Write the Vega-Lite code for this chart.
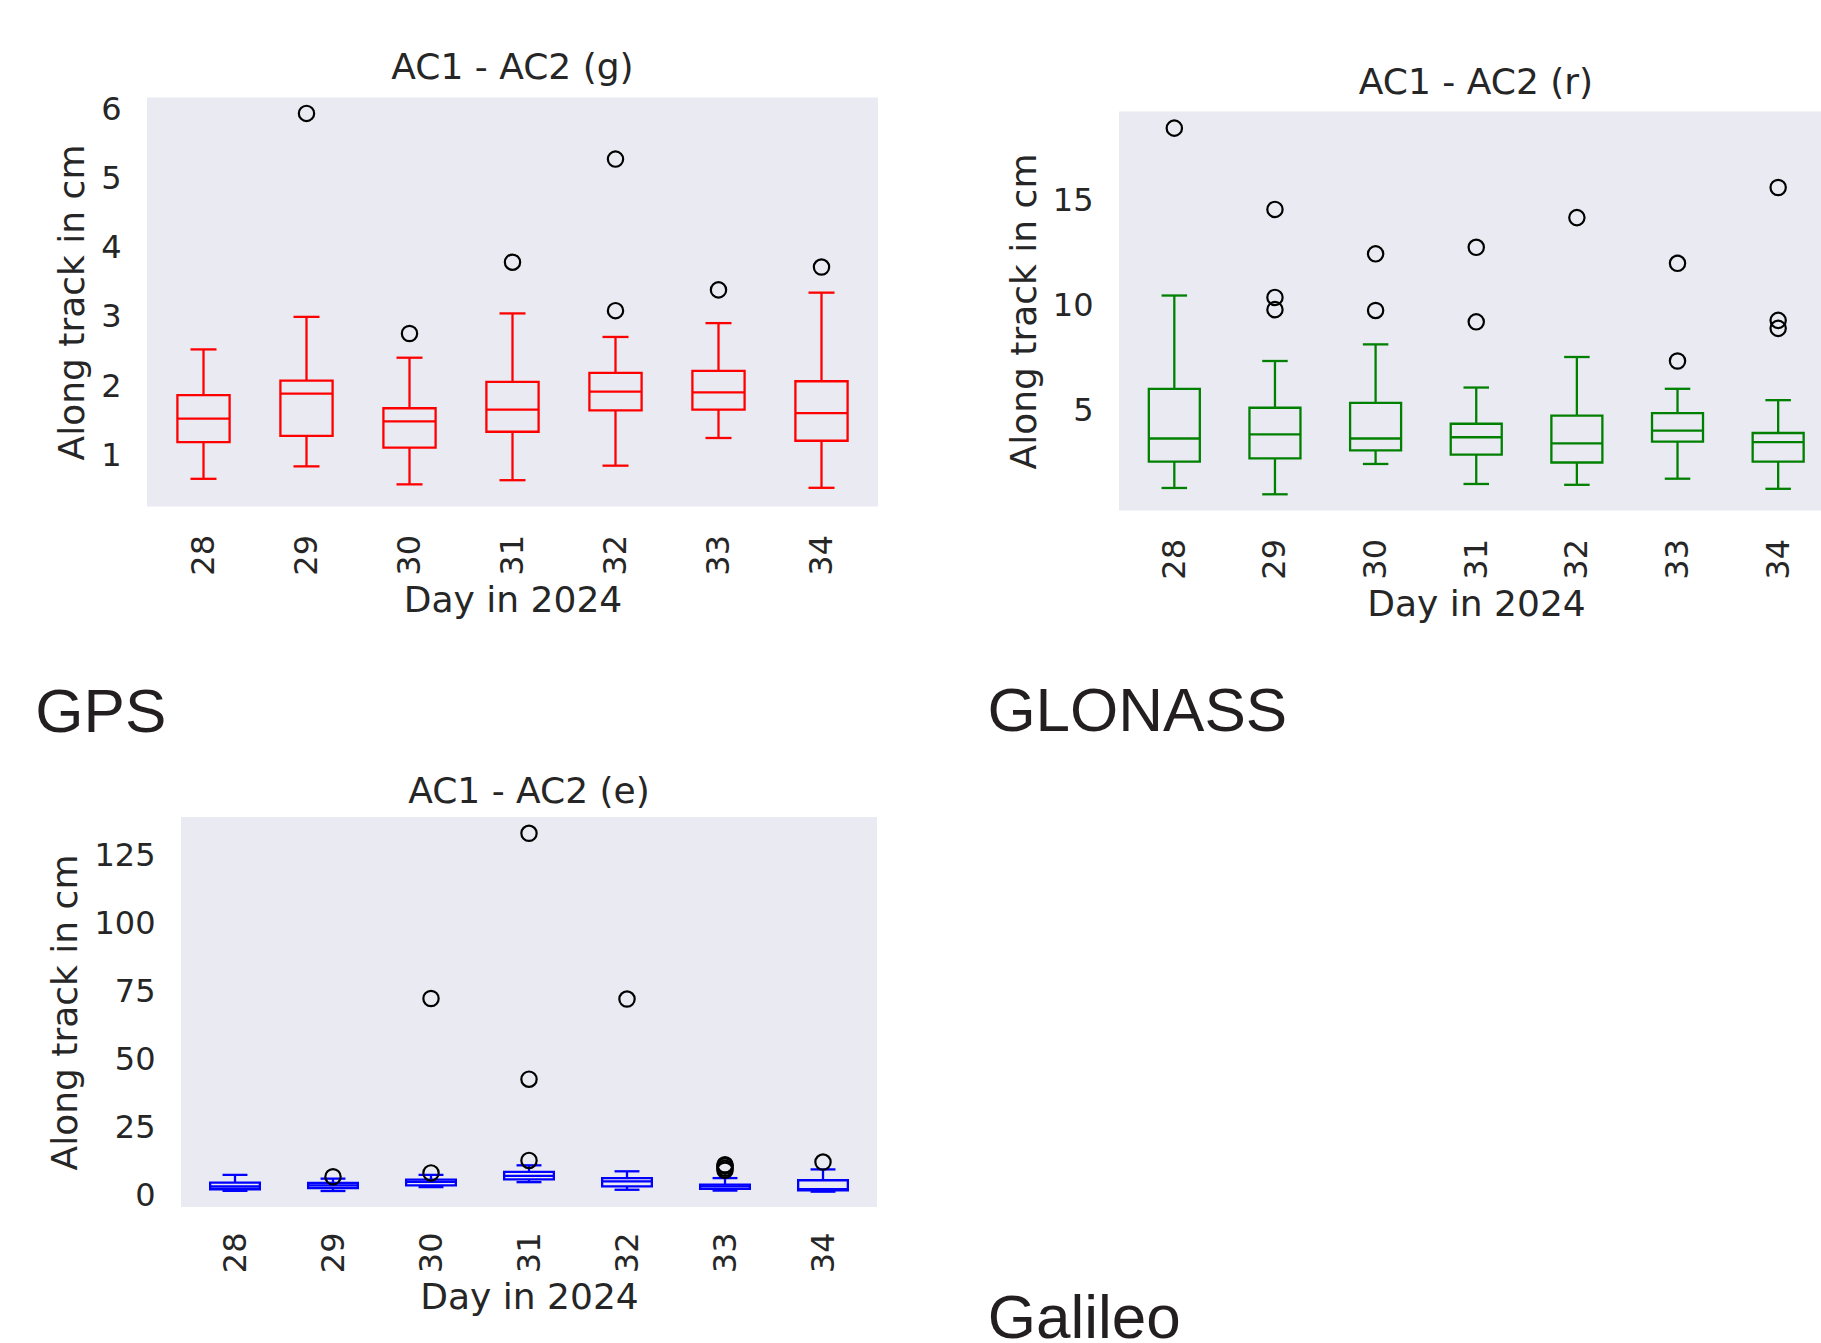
{
  "$schema": "https://vega.github.io/schema/vega-lite/v6.json",
  "usermeta": {"embedOptions": {"actions": false}},
  "background": "white",
  "padding": {"left": 0, "top": 49.5, "right": 0, "bottom": -6},
  "datasets": {
    "gpsBox": [
      {"day": 28, "low": 0.66, "q1": 1.19, "median": 1.53, "q3": 1.87, "high": 2.53},
      {"day": 29, "low": 0.84, "q1": 1.28, "median": 1.89, "q3": 2.08, "high": 3.00},
      {"day": 30, "low": 0.58, "q1": 1.11, "median": 1.49, "q3": 1.68, "high": 2.41},
      {"day": 31, "low": 0.64, "q1": 1.34, "median": 1.66, "q3": 2.06, "high": 3.05},
      {"day": 32, "low": 0.85, "q1": 1.65, "median": 1.92, "q3": 2.19, "high": 2.71},
      {"day": 33, "low": 1.25, "q1": 1.66, "median": 1.91, "q3": 2.22, "high": 2.91},
      {"day": 34, "low": 0.53, "q1": 1.21, "median": 1.61, "q3": 2.07, "high": 3.35}
    ],
    "gpsOut": [
      {"day": 29, "value": 5.94},
      {"day": 30, "value": 2.76},
      {"day": 31, "value": 3.79},
      {"day": 32, "value": 5.28},
      {"day": 32, "value": 3.09},
      {"day": 33, "value": 3.39},
      {"day": 34, "value": 3.72}
    ],
    "gloBox": [
      {"day": 28, "low": 1.33, "q1": 2.58, "median": 3.68, "q3": 6.04, "high": 10.47},
      {"day": 29, "low": 1.03, "q1": 2.74, "median": 3.88, "q3": 5.14, "high": 7.36},
      {"day": 30, "low": 2.47, "q1": 3.12, "median": 3.68, "q3": 5.37, "high": 8.15},
      {"day": 31, "low": 1.52, "q1": 2.91, "median": 3.74, "q3": 4.38, "high": 6.10},
      {"day": 32, "low": 1.48, "q1": 2.54, "median": 3.45, "q3": 4.77, "high": 7.55},
      {"day": 33, "low": 1.77, "q1": 3.53, "median": 4.05, "q3": 4.88, "high": 6.04},
      {"day": 34, "low": 1.29, "q1": 2.58, "median": 3.51, "q3": 3.94, "high": 5.50}
    ],
    "gloOut": [
      {"day": 28, "value": 18.42},
      {"day": 29, "value": 14.56},
      {"day": 29, "value": 10.38},
      {"day": 29, "value": 9.80},
      {"day": 30, "value": 12.45},
      {"day": 30, "value": 9.76},
      {"day": 31, "value": 12.76},
      {"day": 31, "value": 9.22},
      {"day": 32, "value": 14.17},
      {"day": 33, "value": 12.0},
      {"day": 33, "value": 7.36},
      {"day": 34, "value": 15.6},
      {"day": 34, "value": 9.29},
      {"day": 34, "value": 8.91}
    ],
    "galBox": [
      {"day": 28, "low": 1.7, "q1": 2.3, "median": 3.3, "q3": 4.7, "high": 7.6},
      {"day": 29, "low": 1.65, "q1": 2.75, "median": 3.7, "q3": 4.6, "high": 6.2},
      {"day": 30, "low": 3.1, "q1": 3.7, "median": 5.0, "q3": 5.8, "high": 7.6},
      {"day": 31, "low": 4.9, "q1": 5.9, "median": 7.2, "q3": 8.7, "high": 11.1},
      {"day": 32, "low": 2.1, "q1": 3.35, "median": 5.2, "q3": 6.4, "high": 8.9},
      {"day": 33, "low": 1.8, "q1": 2.4, "median": 3.35, "q3": 4.0, "high": 6.4},
      {"day": 34, "low": 1.4, "q1": 1.9, "median": 2.3, "q3": 5.6, "high": 9.6}
    ],
    "galOut": [
      {"day": 29, "value": 6.9},
      {"day": 30, "value": 8.3},
      {"day": 30, "value": 72.5},
      {"day": 31, "value": 12.9},
      {"day": 31, "value": 42.8},
      {"day": 31, "value": 133.3},
      {"day": 32, "value": 72.3},
      {"day": 33, "value": 9.3},
      {"day": 33, "value": 10.0},
      {"day": 33, "value": 10.8},
      {"day": 33, "value": 11.3},
      {"day": 34, "value": 12.3}
    ]
  },
  "vconcat": [
    {
      "hconcat": [
        {"width": 34.3, "height": 1, "data": {"values": []}, "mark": "point", "view": {"fill": "white", "stroke": null}},
        {
          "hconcat": [
            {
              "vconcat": [
                {
                  "title": {"text": "AC1 - AC2 (g)", "frame": "group", "anchor": "middle", "offset": 6},
                  "width": 731,
                  "height": 409,
                  "encoding": {
                    "x": {"field": "day", "type": "quantitative", "title": "Day in 2024",
                          "scale": {"domain": [27.5, 34.5], "nice": false, "zero": false},
                          "axis": {"values": [28, 29, 30, 31, 32, 33, 34], "format": "d"}}
                  },
                  "layer": [
                    {"data": {"name": "gpsBox"}, "mark": {"type": "rule", "color": "#ff0000", "strokeWidth": 2.3},
                     "encoding": {"y": {"field": "low", "type": "quantitative", "title": "Along track in cm", "scale": {"domain": [0.26, 6.17], "nice": false, "zero": false}, "axis": {"values": [1, 2, 3, 4, 5, 6]}}, "y2": {"field": "q1"}}},
                    {"data": {"name": "gpsBox"}, "mark": {"type": "rule", "color": "#ff0000", "strokeWidth": 2.3},
                     "encoding": {"y": {"field": "q3", "type": "quantitative", "title": "Along track in cm", "scale": {"domain": [0.26, 6.17], "nice": false, "zero": false}, "axis": {"values": [1, 2, 3, 4, 5, 6]}}, "y2": {"field": "high"}}},
                    {"data": {"name": "gpsBox"}, "mark": {"type": "tick", "orient": "horizontal", "size": 26, "thickness": 2.3, "color": "#ff0000", "opacity": 1},
                     "encoding": {"y": {"field": "low", "type": "quantitative", "title": "Along track in cm", "scale": {"domain": [0.26, 6.17], "nice": false, "zero": false}, "axis": {"values": [1, 2, 3, 4, 5, 6]}}}},
                    {"data": {"name": "gpsBox"}, "mark": {"type": "tick", "orient": "horizontal", "size": 26, "thickness": 2.3, "color": "#ff0000", "opacity": 1},
                     "encoding": {"y": {"field": "high", "type": "quantitative", "title": "Along track in cm", "scale": {"domain": [0.26, 6.17], "nice": false, "zero": false}, "axis": {"values": [1, 2, 3, 4, 5, 6]}}}},
                    {"data": {"name": "gpsBox"}, "mark": {"type": "bar", "width": 52.2, "fill": "transparent", "stroke": "#ff0000", "strokeWidth": 2.3},
                     "encoding": {"y": {"field": "q1", "type": "quantitative", "title": "Along track in cm", "scale": {"domain": [0.26, 6.17], "nice": false, "zero": false}, "axis": {"values": [1, 2, 3, 4, 5, 6]}}, "y2": {"field": "q3"}}},
                    {"data": {"name": "gpsBox"}, "mark": {"type": "tick", "orient": "horizontal", "size": 52.2, "thickness": 2.3, "color": "#ff0000", "opacity": 1},
                     "encoding": {"y": {"field": "median", "type": "quantitative", "title": "Along track in cm", "scale": {"domain": [0.26, 6.17], "nice": false, "zero": false}, "axis": {"values": [1, 2, 3, 4, 5, 6]}}}},
                    {"data": {"name": "gpsOut"}, "mark": {"type": "point", "shape": "circle", "filled": false, "color": "#000000", "size": 235, "strokeWidth": 2.2, "opacity": 1},
                     "encoding": {"y": {"field": "value", "type": "quantitative", "title": "Along track in cm", "scale": {"domain": [0.26, 6.17], "nice": false, "zero": false}, "axis": {"values": [1, 2, 3, 4, 5, 6]}}}}
                  ]
                }
              ],
              "title": {"text": "GPS", "orient": "bottom", "anchor": "start", "font": "Liberation Sans", "fontSize": 62, "fontWeight": "normal", "color": "#231f20", "baseline": "top", "offset": 64.5, "dx": -19.3}
            },
            {
              "vconcat": [
                {
                  "width": 702, "height": 13.4, "data": {"values": []}, "mark": "point",
                  "view": {"fill": "white", "stroke": null},
                  "title": {"text": "AC1 - AC2 (r)", "frame": "group", "anchor": "middle", "offset": -4.3, "dx": 6}
                },
                {
                  "width": 702,
                  "height": 399,
                  "encoding": {
                    "x": {"field": "day", "type": "quantitative", "title": "Day in 2024",
                          "scale": {"domain": [27.5, 34.376], "nice": false, "zero": false},
                          "axis": {"values": [28, 29, 30, 31, 32, 33, 34], "format": "d", "titleX": 357}}
                  },
                  "layer": [
                    {"data": {"name": "gloBox"}, "mark": {"type": "rule", "color": "#008000", "strokeWidth": 2.3},
                     "encoding": {"y": {"field": "low", "type": "quantitative", "title": "Along track in cm", "scale": {"domain": [0.26, 19.21], "nice": false, "zero": false}, "axis": {"values": [5, 10, 15]}}, "y2": {"field": "q1"}}},
                    {"data": {"name": "gloBox"}, "mark": {"type": "rule", "color": "#008000", "strokeWidth": 2.3},
                     "encoding": {"y": {"field": "q3", "type": "quantitative", "title": "Along track in cm", "scale": {"domain": [0.26, 19.21], "nice": false, "zero": false}, "axis": {"values": [5, 10, 15]}}, "y2": {"field": "high"}}},
                    {"data": {"name": "gloBox"}, "mark": {"type": "tick", "orient": "horizontal", "size": 25.5, "thickness": 2.3, "color": "#008000", "opacity": 1},
                     "encoding": {"y": {"field": "low", "type": "quantitative", "title": "Along track in cm", "scale": {"domain": [0.26, 19.21], "nice": false, "zero": false}, "axis": {"values": [5, 10, 15]}}}},
                    {"data": {"name": "gloBox"}, "mark": {"type": "tick", "orient": "horizontal", "size": 25.5, "thickness": 2.3, "color": "#008000", "opacity": 1},
                     "encoding": {"y": {"field": "high", "type": "quantitative", "title": "Along track in cm", "scale": {"domain": [0.26, 19.21], "nice": false, "zero": false}, "axis": {"values": [5, 10, 15]}}}},
                    {"data": {"name": "gloBox"}, "mark": {"type": "bar", "width": 51, "fill": "transparent", "stroke": "#008000", "strokeWidth": 2.3},
                     "encoding": {"y": {"field": "q1", "type": "quantitative", "title": "Along track in cm", "scale": {"domain": [0.26, 19.21], "nice": false, "zero": false}, "axis": {"values": [5, 10, 15]}}, "y2": {"field": "q3"}}},
                    {"data": {"name": "gloBox"}, "mark": {"type": "tick", "orient": "horizontal", "size": 51, "thickness": 2.3, "color": "#008000", "opacity": 1},
                     "encoding": {"y": {"field": "median", "type": "quantitative", "title": "Along track in cm", "scale": {"domain": [0.26, 19.21], "nice": false, "zero": false}, "axis": {"values": [5, 10, 15]}}}},
                    {"data": {"name": "gloOut"}, "mark": {"type": "point", "shape": "circle", "filled": false, "color": "#000000", "size": 235, "strokeWidth": 2.2, "opacity": 1},
                     "encoding": {"y": {"field": "value", "type": "quantitative", "title": "Along track in cm", "scale": {"domain": [0.26, 19.21], "nice": false, "zero": false}, "axis": {"values": [5, 10, 15]}}}}
                  ]
                }
              ],
              "spacing": 0,
              "title": {"text": "GLONASS", "orient": "bottom", "anchor": "start", "font": "Liberation Sans", "fontSize": 62, "fontWeight": "normal", "color": "#231f20", "baseline": "top", "offset": 60.2, "dx": -18.9}
            }
          ],
          "spacing": 109
        }
      ],
      "spacing": 0
    },
    {
      "hconcat": [
        {"width": 47, "height": 1, "data": {"values": []}, "mark": "point", "view": {"fill": "white", "stroke": null}},
        {
          "title": {"text": "AC1 - AC2 (e)", "frame": "group", "anchor": "middle", "offset": 6.5},
          "width": 696,
          "height": 390,
          "encoding": {
            "x": {"field": "day", "type": "quantitative", "title": "Day in 2024",
                  "scale": {"domain": [27.5, 34.5], "nice": false, "zero": false},
                  "axis": {"values": [28, 29, 30, 31, 32, 33, 34], "format": "d", "labelPadding": 25}}
          },
          "layer": [
            {"data": {"name": "galBox"}, "mark": {"type": "rule", "color": "#0000ff", "strokeWidth": 2.3},
             "encoding": {"y": {"field": "low", "type": "quantitative", "title": "Along track in cm", "scale": {"domain": [-4.24, 139.3], "nice": false, "zero": false}, "axis": {"values": [0, 25, 50, 75, 100, 125]}}, "y2": {"field": "q1"}}},
            {"data": {"name": "galBox"}, "mark": {"type": "rule", "color": "#0000ff", "strokeWidth": 2.3},
             "encoding": {"y": {"field": "q3", "type": "quantitative", "title": "Along track in cm", "scale": {"domain": [-4.24, 139.3], "nice": false, "zero": false}, "axis": {"values": [0, 25, 50, 75, 100, 125]}}, "y2": {"field": "high"}}},
            {"data": {"name": "galBox"}, "mark": {"type": "tick", "orient": "horizontal", "size": 24.9, "thickness": 2.3, "color": "#0000ff", "opacity": 1},
             "encoding": {"y": {"field": "low", "type": "quantitative", "title": "Along track in cm", "scale": {"domain": [-4.24, 139.3], "nice": false, "zero": false}, "axis": {"values": [0, 25, 50, 75, 100, 125]}}}},
            {"data": {"name": "galBox"}, "mark": {"type": "tick", "orient": "horizontal", "size": 24.9, "thickness": 2.3, "color": "#0000ff", "opacity": 1},
             "encoding": {"y": {"field": "high", "type": "quantitative", "title": "Along track in cm", "scale": {"domain": [-4.24, 139.3], "nice": false, "zero": false}, "axis": {"values": [0, 25, 50, 75, 100, 125]}}}},
            {"data": {"name": "galBox"}, "mark": {"type": "bar", "width": 49.7, "fill": "transparent", "stroke": "#0000ff", "strokeWidth": 2.3},
             "encoding": {"y": {"field": "q1", "type": "quantitative", "title": "Along track in cm", "scale": {"domain": [-4.24, 139.3], "nice": false, "zero": false}, "axis": {"values": [0, 25, 50, 75, 100, 125]}}, "y2": {"field": "q3"}}},
            {"data": {"name": "galBox"}, "mark": {"type": "tick", "orient": "horizontal", "size": 49.7, "thickness": 2.3, "color": "#0000ff", "opacity": 1},
             "encoding": {"y": {"field": "median", "type": "quantitative", "title": "Along track in cm", "scale": {"domain": [-4.24, 139.3], "nice": false, "zero": false}, "axis": {"values": [0, 25, 50, 75, 100, 125]}}}},
            {"data": {"name": "galOut"}, "mark": {"type": "point", "shape": "circle", "filled": false, "color": "#000000", "size": 235, "strokeWidth": 2.2, "opacity": 1},
             "encoding": {"y": {"field": "value", "type": "quantitative", "title": "Along track in cm", "scale": {"domain": [-4.24, 139.3], "nice": false, "zero": false}, "axis": {"values": [0, 25, 50, 75, 100, 125]}}}}
          ]
        }
      ],
      "spacing": 0,
      "title": {"text": "Galileo", "orient": "bottom", "anchor": "start", "font": "Liberation Sans", "fontSize": 62, "fontWeight": "normal", "color": "#231f20", "baseline": "top", "offset": -27.1, "dx": 987.7}
    }
  ],
  "spacing": 28.5,
  "config": {
    "view": {"fill": "#eaeaf2", "stroke": null},
    "axis": {
      "grid": false, "domain": false, "ticks": false, "tickSize": 0,
      "labelFont": "DejaVu Sans", "labelFontSize": 32, "labelColor": "#262626", "labelFlush": false, "labelOverlap": false,
      "titleFont": "DejaVu Sans", "titleFontSize": 36, "titleFontWeight": "normal", "titleColor": "#262626"
    },
    "axisX": {"labelAngle": 270, "labelPadding": 28, "titlePadding": 8},
    "axisY": {"labelPadding": 26, "titlePadding": 9},
    "title": {"font": "DejaVu Sans", "fontSize": 36, "fontWeight": "normal", "color": "#262626"}
  }
}
